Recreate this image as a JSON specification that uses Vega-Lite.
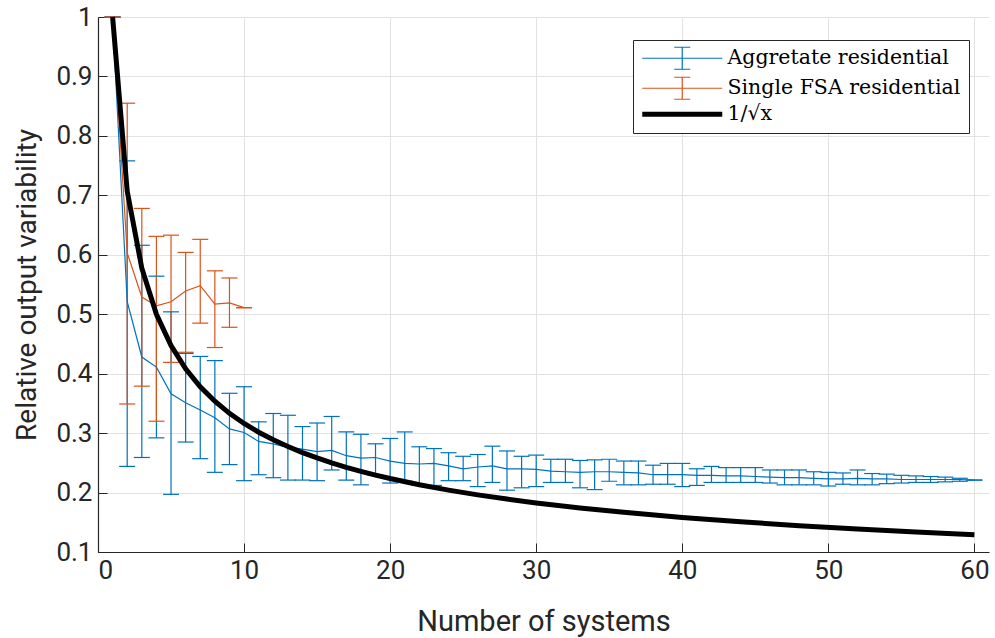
{
  "$schema": "https://vega.github.io/schema/vega-lite/v6.json",
  "width": 891,
  "height": 535,
  "autosize": {"type": "none"},
  "padding": {"left": 98, "top": 17, "right": 6, "bottom": 86},
  "background": "white",
  "view": {"stroke": null},
  "config": {
    "axis": {
      "domainColor": "#262626",
      "tickColor": "#262626",
      "labelColor": "#262626",
      "titleColor": "#262626",
      "labelFont": "Roboto",
      "titleFont": "Roboto",
      "labelFontSize": 26,
      "titleFontSize": 29,
      "titleFontWeight": "normal",
      "gridColor": "#e2e2e2",
      "gridWidth": 1,
      "tickSize": -9,
      "domainWidth": 1.2
    }
  },
  "datasets": {
    "bars": [
      {"x": 1, "mean": 1.0, "lo": 1.0, "hi": 1.0, "series": "Aggretate residential"},
      {"x": 2, "mean": 0.521, "lo": 0.244, "hi": 0.758, "series": "Aggretate residential"},
      {"x": 3, "mean": 0.428, "lo": 0.259, "hi": 0.616, "series": "Aggretate residential"},
      {"x": 4, "mean": 0.411, "lo": 0.292, "hi": 0.564, "series": "Aggretate residential"},
      {"x": 5, "mean": 0.366, "lo": 0.197, "hi": 0.504, "series": "Aggretate residential"},
      {"x": 6, "mean": 0.351, "lo": 0.285, "hi": 0.434, "series": "Aggretate residential"},
      {"x": 7, "mean": 0.339, "lo": 0.257, "hi": 0.429, "series": "Aggretate residential"},
      {"x": 8, "mean": 0.326, "lo": 0.234, "hi": 0.422, "series": "Aggretate residential"},
      {"x": 9, "mean": 0.307, "lo": 0.247, "hi": 0.367, "series": "Aggretate residential"},
      {"x": 10, "mean": 0.301, "lo": 0.22, "hi": 0.378, "series": "Aggretate residential"},
      {"x": 11, "mean": 0.286, "lo": 0.23, "hi": 0.319, "series": "Aggretate residential"},
      {"x": 12, "mean": 0.282, "lo": 0.225, "hi": 0.333, "series": "Aggretate residential"},
      {"x": 13, "mean": 0.276, "lo": 0.221, "hi": 0.33, "series": "Aggretate residential"},
      {"x": 14, "mean": 0.273, "lo": 0.221, "hi": 0.311, "series": "Aggretate residential"},
      {"x": 15, "mean": 0.269, "lo": 0.22, "hi": 0.317, "series": "Aggretate residential"},
      {"x": 16, "mean": 0.271, "lo": 0.238, "hi": 0.328, "series": "Aggretate residential"},
      {"x": 17, "mean": 0.262, "lo": 0.221, "hi": 0.302, "series": "Aggretate residential"},
      {"x": 18, "mean": 0.258, "lo": 0.213, "hi": 0.298, "series": "Aggretate residential"},
      {"x": 19, "mean": 0.259, "lo": 0.229, "hi": 0.282, "series": "Aggretate residential"},
      {"x": 20, "mean": 0.253, "lo": 0.216, "hi": 0.291, "series": "Aggretate residential"},
      {"x": 21, "mean": 0.249, "lo": 0.219, "hi": 0.302, "series": "Aggretate residential"},
      {"x": 22, "mean": 0.248, "lo": 0.212, "hi": 0.277, "series": "Aggretate residential"},
      {"x": 23, "mean": 0.249, "lo": 0.212, "hi": 0.274, "series": "Aggretate residential"},
      {"x": 24, "mean": 0.245, "lo": 0.22, "hi": 0.267, "series": "Aggretate residential"},
      {"x": 25, "mean": 0.24, "lo": 0.22, "hi": 0.261, "series": "Aggretate residential"},
      {"x": 26, "mean": 0.243, "lo": 0.21, "hi": 0.264, "series": "Aggretate residential"},
      {"x": 27, "mean": 0.245, "lo": 0.217, "hi": 0.278, "series": "Aggretate residential"},
      {"x": 28, "mean": 0.24, "lo": 0.204, "hi": 0.27, "series": "Aggretate residential"},
      {"x": 29, "mean": 0.24, "lo": 0.208, "hi": 0.261, "series": "Aggretate residential"},
      {"x": 30, "mean": 0.239, "lo": 0.21, "hi": 0.263, "series": "Aggretate residential"},
      {"x": 31, "mean": 0.236, "lo": 0.217, "hi": 0.256, "series": "Aggretate residential"},
      {"x": 32, "mean": 0.235, "lo": 0.217, "hi": 0.256, "series": "Aggretate residential"},
      {"x": 33, "mean": 0.234, "lo": 0.208, "hi": 0.254, "series": "Aggretate residential"},
      {"x": 34, "mean": 0.235, "lo": 0.205, "hi": 0.255, "series": "Aggretate residential"},
      {"x": 35, "mean": 0.235, "lo": 0.219, "hi": 0.256, "series": "Aggretate residential"},
      {"x": 36, "mean": 0.234, "lo": 0.213, "hi": 0.253, "series": "Aggretate residential"},
      {"x": 37, "mean": 0.233, "lo": 0.213, "hi": 0.253, "series": "Aggretate residential"},
      {"x": 38, "mean": 0.23, "lo": 0.214, "hi": 0.246, "series": "Aggretate residential"},
      {"x": 39, "mean": 0.23, "lo": 0.214, "hi": 0.249, "series": "Aggretate residential"},
      {"x": 40, "mean": 0.23, "lo": 0.21, "hi": 0.249, "series": "Aggretate residential"},
      {"x": 41, "mean": 0.229, "lo": 0.212, "hi": 0.24, "series": "Aggretate residential"},
      {"x": 42, "mean": 0.229, "lo": 0.217, "hi": 0.244, "series": "Aggretate residential"},
      {"x": 43, "mean": 0.228, "lo": 0.217, "hi": 0.242, "series": "Aggretate residential"},
      {"x": 44, "mean": 0.228, "lo": 0.217, "hi": 0.242, "series": "Aggretate residential"},
      {"x": 45, "mean": 0.227, "lo": 0.217, "hi": 0.242, "series": "Aggretate residential"},
      {"x": 46, "mean": 0.226, "lo": 0.216, "hi": 0.238, "series": "Aggretate residential"},
      {"x": 47, "mean": 0.225, "lo": 0.213, "hi": 0.238, "series": "Aggretate residential"},
      {"x": 48, "mean": 0.225, "lo": 0.213, "hi": 0.238, "series": "Aggretate residential"},
      {"x": 49, "mean": 0.224, "lo": 0.213, "hi": 0.235, "series": "Aggretate residential"},
      {"x": 50, "mean": 0.223, "lo": 0.211, "hi": 0.234, "series": "Aggretate residential"},
      {"x": 51, "mean": 0.223, "lo": 0.214, "hi": 0.233, "series": "Aggretate residential"},
      {"x": 52, "mean": 0.224, "lo": 0.213, "hi": 0.238, "series": "Aggretate residential"},
      {"x": 53, "mean": 0.223, "lo": 0.213, "hi": 0.232, "series": "Aggretate residential"},
      {"x": 54, "mean": 0.223, "lo": 0.215, "hi": 0.231, "series": "Aggretate residential"},
      {"x": 55, "mean": 0.222, "lo": 0.216, "hi": 0.229, "series": "Aggretate residential"},
      {"x": 56, "mean": 0.222, "lo": 0.217, "hi": 0.228, "series": "Aggretate residential"},
      {"x": 57, "mean": 0.222, "lo": 0.217, "hi": 0.227, "series": "Aggretate residential"},
      {"x": 58, "mean": 0.222, "lo": 0.218, "hi": 0.226, "series": "Aggretate residential"},
      {"x": 59, "mean": 0.222, "lo": 0.219, "hi": 0.224, "series": "Aggretate residential"},
      {"x": 60, "mean": 0.221, "lo": 0.221, "hi": 0.221, "series": "Aggretate residential"},
      {"x": 1, "mean": 1.0, "lo": 1.0, "hi": 1.0, "series": "Single FSA residential"},
      {"x": 2, "mean": 0.603, "lo": 0.349, "hi": 0.855, "series": "Single FSA residential"},
      {"x": 3, "mean": 0.529, "lo": 0.379, "hi": 0.678, "series": "Single FSA residential"},
      {"x": 4, "mean": 0.514, "lo": 0.32, "hi": 0.631, "series": "Single FSA residential"},
      {"x": 5, "mean": 0.521, "lo": 0.419, "hi": 0.633, "series": "Single FSA residential"},
      {"x": 6, "mean": 0.539, "lo": 0.436, "hi": 0.604, "series": "Single FSA residential"},
      {"x": 7, "mean": 0.548, "lo": 0.485, "hi": 0.626, "series": "Single FSA residential"},
      {"x": 8, "mean": 0.517, "lo": 0.444, "hi": 0.573, "series": "Single FSA residential"},
      {"x": 9, "mean": 0.519, "lo": 0.478, "hi": 0.561, "series": "Single FSA residential"},
      {"x": 10, "mean": 0.511, "lo": 0.511, "hi": 0.511, "series": "Single FSA residential"}
    ],
    "curve": [
      {"x": 1, "y": 1.0, "series": "1/√x"},
      {"x": 2, "y": 0.7071, "series": "1/√x"},
      {"x": 3, "y": 0.5774, "series": "1/√x"},
      {"x": 4, "y": 0.5, "series": "1/√x"},
      {"x": 5, "y": 0.4472, "series": "1/√x"},
      {"x": 6, "y": 0.4082, "series": "1/√x"},
      {"x": 7, "y": 0.378, "series": "1/√x"},
      {"x": 8, "y": 0.3536, "series": "1/√x"},
      {"x": 9, "y": 0.3333, "series": "1/√x"},
      {"x": 10, "y": 0.3162, "series": "1/√x"},
      {"x": 11, "y": 0.3015, "series": "1/√x"},
      {"x": 12, "y": 0.2887, "series": "1/√x"},
      {"x": 13, "y": 0.2774, "series": "1/√x"},
      {"x": 14, "y": 0.2673, "series": "1/√x"},
      {"x": 15, "y": 0.2582, "series": "1/√x"},
      {"x": 16, "y": 0.25, "series": "1/√x"},
      {"x": 17, "y": 0.2425, "series": "1/√x"},
      {"x": 18, "y": 0.2357, "series": "1/√x"},
      {"x": 19, "y": 0.2294, "series": "1/√x"},
      {"x": 20, "y": 0.2236, "series": "1/√x"},
      {"x": 22, "y": 0.2132, "series": "1/√x"},
      {"x": 24, "y": 0.2041, "series": "1/√x"},
      {"x": 26, "y": 0.1961, "series": "1/√x"},
      {"x": 28, "y": 0.189, "series": "1/√x"},
      {"x": 30, "y": 0.1826, "series": "1/√x"},
      {"x": 33, "y": 0.1741, "series": "1/√x"},
      {"x": 36, "y": 0.1667, "series": "1/√x"},
      {"x": 40, "y": 0.1581, "series": "1/√x"},
      {"x": 44, "y": 0.1508, "series": "1/√x"},
      {"x": 48, "y": 0.1443, "series": "1/√x"},
      {"x": 52, "y": 0.1387, "series": "1/√x"},
      {"x": 56, "y": 0.1336, "series": "1/√x"},
      {"x": 60, "y": 0.1291, "series": "1/√x"}
    ]
  },
  "encoding": {
    "x": {
      "field": "x", "type": "quantitative",
      "scale": {"domain": [0, 61], "nice": false, "zero": false},
      "axis": {"values": [0, 10, 20, 30, 40, 50, 60], "title": "Number of systems", "titlePadding": 24, "labelPadding": 14, "grid": true}
    },
    "color": {
      "field": "series", "type": "nominal",
      "scale": {"domain": ["Aggretate residential", "Single FSA residential", "1/√x"], "range": ["#0072BD", "#D95319", "#000000"]},
      "legend": {
        "title": null,
        "orient": "none",
        "legendX": 535,
        "legendY": 23,
        "strokeColor": "#262626",
        "fillColor": "white",
        "padding": 8,
        "symbolSize": 400,
        "symbolStrokeWidth": 1.2,
        "symbolType": "M-0.9,0H7.1M3.1,-1.1V1.1M2.3,-1.1H3.9M2.3,1.1H3.9",
        "labelFont": "DejaVu Serif",
        "labelFontSize": 20.5,
        "labelColor": "#000000",
        "labelOffset": 66,
        "rowPadding": 2,
        "labelLimit": 400,
        "encoding": {
          "symbols": {
            "shape": {"value": {"expr": "datum.value === '1/√x' ? 'M-0.9,0H7.1' : 'M-0.9,0H7.1M3.1,-1.1V1.1M2.3,-1.1H3.9M2.3,1.1H3.9'"}},
            "strokeWidth": {"value": {"expr": "datum.value === '1/√x' ? 5 : 1.2"}}
          }
        }
      }
    }
  },
  "layer": [
    {
      "data": {"name": "bars"},
      "mark": {"type": "rule", "strokeWidth": 1.2},
      "encoding": {
        "y": {
          "field": "lo", "type": "quantitative",
          "scale": {"domain": [0.1, 1], "nice": false, "zero": false},
          "axis": {"values": [0.1, 0.2, 0.3, 0.4, 0.5, 0.6, 0.7, 0.8, 0.9, 1], "format": "~g", "title": "Relative output variability", "titleFontSize": 28, "titlePadding": 14, "labelPadding": 15, "grid": true}
        },
        "y2": {"field": "hi"}
      }
    },
    {
      "data": {"name": "bars"},
      "mark": {"type": "tick", "orient": "horizontal", "size": 16, "thickness": 1.2, "opacity": 1},
      "encoding": {"y": {"field": "lo", "type": "quantitative"}}
    },
    {
      "data": {"name": "bars"},
      "mark": {"type": "tick", "orient": "horizontal", "size": 16, "thickness": 1.2, "opacity": 1},
      "encoding": {"y": {"field": "hi", "type": "quantitative"}}
    },
    {
      "data": {"name": "bars"},
      "mark": {"type": "line", "strokeWidth": 1.2},
      "encoding": {"y": {"field": "mean", "type": "quantitative"}}
    },
    {
      "data": {"name": "curve"},
      "mark": {"type": "line", "strokeWidth": 5},
      "encoding": {"y": {"field": "y", "type": "quantitative"}}
    }
  ]
}
